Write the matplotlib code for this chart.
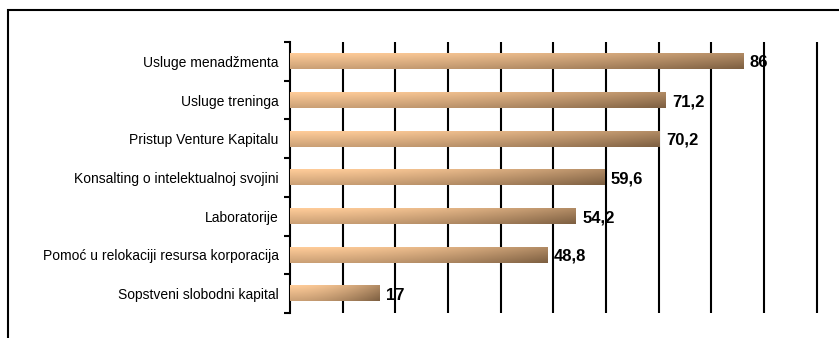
# Horizontal bar chart with gradient bars

import matplotlib.pyplot as plt
import numpy as np
from matplotlib.patches import Rectangle

categories = ['Usluge menadžmenta', 'Usluge treninga', 'Pristup Venture Kapitalu',
              'Konsalting o intelektualnoj svojini', 'Laboratorije',
              'Pomoć u relokaciji resursa korporacija', 'Sopstveni slobodni kapital']
values = [86, 71.2, 70.2, 59.6, 54.2, 48.8, 17]
labels = ['86', '71,2', '70,2', '59,6', '54,2', '48,8', '17']
grid_x = [10, 20, 30, 40, 50, 60, 70, 80, 90, 100]

plt.rcParams['font.family'] = ['Liberation Sans', 'DejaVu Sans']

light = np.array([255, 204, 153]) / 255
dark = np.array([125, 95, 65]) / 255


def gradient(nx=200, ny=20):
    gx = np.linspace(0, 1, nx)[None, :]
    gy = np.linspace(0, 1, ny)[:, None]
    t = np.clip(0.6 * gx ** 1.8 + 0.4 * gy, 0, 1)
    return light[None, None, :] * (1 - t[..., None]) + dark[None, None, :] * t[..., None]


def plot():
    fig = plt.figure(figsize=(8.39, 3.38), dpi=100)
    ax = fig.add_axes([0.3456, 0.074, 0.6305, 0.8017])

    y = np.arange(len(categories))
    bars = ax.barh(y, values, height=0.4, color='none', zorder=3)
    for b in bars:
        x0, y0, w, h = b.get_x(), b.get_y(), b.get_width(), b.get_height()
        ax.imshow(gradient(), extent=(x0, x0 + w, y0 + h, y0), aspect='auto',
                  origin='upper', zorder=3, interpolation='bilinear')

    for gx in grid_x:
        ax.axvline(gx, color='black', lw=1.5, zorder=1)

    for yi, v, lab in zip(y, values, labels):
        ax.text(v + 1.3, yi + 0.04, lab, va='center', ha='left',
                fontsize=12, fontweight='bold', zorder=5)

    ax.set_xlim(0, 100.4)
    ax.set_ylim(len(categories) - 0.5, -0.5)

    ax.set_yticks(y)
    ax.set_yticklabels(categories, fontsize=10)
    ax.set_yticks(np.arange(-0.5, len(categories)), minor=True)
    ax.tick_params(axis='y', which='major', length=0, pad=8)
    ax.tick_params(axis='y', which='minor', length=4, width=1.5, direction='out')
    ax.set_xticks([])

    for s in ['top', 'right', 'bottom']:
        ax.spines[s].set_visible(False)
    ax.spines['left'].set_linewidth(1.5)

    fig.patches.append(Rectangle((8 / 839, -0.05), 1.1, 0.969 + 0.05,
                                 transform=fig.transFigure, fill=False,
                                 edgecolor='black', lw=1.5))

    fig.savefig('out.png', dpi=100)


plot()
